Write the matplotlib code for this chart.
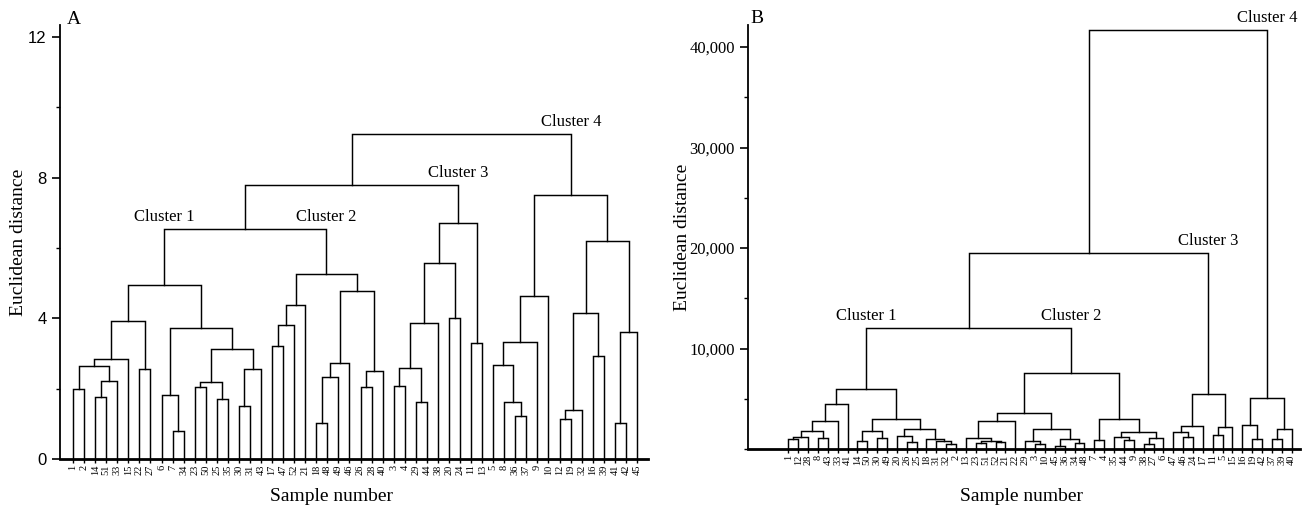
import matplotlib.pyplot as plt
from matplotlib.ticker import FuncFormatter, MultipleLocator

plt.rcParams["font.family"] = ["Liberation Serif", "DejaVu Serif"]

# ---- panel A: leaf order and merges (left, right, height); ids >= n are earlier merges
labels_a = [1, 2, 14, 51, 33, 15, 22, 27, 6, 7, 34, 23, 50, 25, 35, 30, 31, 43,
            17, 47, 52, 21, 18, 48, 49, 46, 26, 28, 40,
            3, 4, 29, 44, 38, 20, 24, 11, 13,
            5, 8, 36, 37, 9, 10, 12, 19, 32, 16, 39, 41, 42, 45]
merges_a = [
    (0, 1, 1.98), (2, 3, 1.76), (53, 4, 2.23), (52, 54, 2.64), (55, 5, 2.83),
    (6, 7, 2.55), (56, 57, 3.93), (9, 10, 0.80), (8, 59, 1.82), (11, 12, 2.06),
    (13, 14, 1.71), (61, 62, 2.20), (15, 16, 1.52), (64, 17, 2.57), (63, 65, 3.13),
    (60, 66, 3.73), (58, 67, 4.96),
    (18, 19, 3.22), (69, 20, 3.80), (70, 21, 4.38), (22, 23, 1.01), (72, 24, 2.34),
    (73, 25, 2.72), (26, 27, 2.05), (75, 28, 2.51), (74, 76, 4.77), (71, 77, 5.27),
    (68, 78, 6.54),
    (29, 30, 2.08), (31, 32, 1.63), (80, 81, 2.58), (82, 33, 3.88), (34, 35, 4.00),
    (83, 84, 5.56), (36, 37, 3.29), (85, 86, 6.70),
    (79, 87, 7.80),
    (40, 41, 1.23), (39, 89, 1.62), (38, 90, 2.67), (91, 42, 3.32), (92, 43, 4.64),
    (44, 45, 1.14), (94, 46, 1.39), (47, 48, 2.93), (95, 96, 4.16), (49, 50, 1.03),
    (98, 51, 3.60), (97, 99, 6.20), (93, 100, 7.50),
    (88, 101, 9.25),
]
# cluster name, child node, parent node
clusters_a = [("Cluster 1", 68, 79), ("Cluster 2", 78, 79),
              ("Cluster 3", 87, 88), ("Cluster 4", 101, 102)]

# ---- panel B
labels_b = [1, 12, 28, 8, 43, 33, 41, 14, 50, 30, 49, 20, 26, 25, 18, 31, 32, 2,
            13, 23, 51, 52, 21, 22, 29, 3, 10, 45, 36, 34, 48, 7, 4, 35, 44, 9, 38,
            27, 6, 47, 46, 24, 17,
            11, 5, 15, 16, 19, 42, 37, 39, 40]
merges_b = [
    (0, 1, 960), (52, 2, 1160), (3, 4, 1060), (53, 54, 1830), (55, 5, 2760),
    (56, 6, 4450), (7, 8, 800), (9, 10, 1100), (58, 59, 1760), (12, 13, 660),
    (11, 61, 1330), (16, 17, 465), (15, 63, 760), (14, 64, 1000), (62, 65, 1990),
    (60, 66, 2990), (57, 67, 5940),
    (19, 20, 560), (21, 22, 700), (69, 70, 800), (18, 71, 1100), (72, 23, 2820),
    (25, 26, 500), (24, 74, 830), (27, 28, 300), (29, 30, 565), (76, 77, 960),
    (75, 78, 1960), (73, 79, 3600), (31, 32, 900), (34, 35, 900), (33, 82, 1160),
    (36, 37, 465), (84, 38, 1060), (83, 85, 1660), (81, 86, 2985), (80, 87, 7590),
    (68, 88, 12040),
    (40, 41, 1160), (39, 90, 1660), (91, 42, 2290), (43, 44, 1400), (93, 45, 2160),
    (92, 94, 5440),
    (89, 95, 19500),
    (47, 48, 960), (46, 97, 2390), (49, 50, 995), (99, 51, 1990), (98, 100, 5040),
    (96, 101, 41700),
]
clusters_b = [("Cluster 1", 68, 89), ("Cluster 2", 88, 89),
              ("Cluster 3", 95, 96), ("Cluster 4", 101, 102)]


def draw_tree(ax, merges, n):
    xs = {i: float(i) for i in range(n)}
    hs = {i: 0.0 for i in range(n)}
    for k, (a, b, h) in enumerate(merges):
        ax.plot([xs[a], xs[a], xs[b], xs[b]], [hs[a], h, h, hs[b]],
                color="black", lw=1.05, solid_joinstyle="miter")
        xs[n + k] = (xs[a] + xs[b]) / 2
        hs[n + k] = h
    return xs, hs


def style_axes(ax, labels):
    for s in ("top", "right"):
        ax.spines[s].set_visible(False)
    ax.spines["left"].set_linewidth(1.3)
    ax.spines["bottom"].set_linewidth(2.0)
    ax.set_xticks(range(len(labels)))
    ax.set_xticklabels([str(v) for v in labels], rotation=90, fontsize=7.5)
    ax.tick_params(axis="x", length=3, width=1.0, pad=1)
    ax.tick_params(axis="y", which="major", length=6, width=1.2, direction="out")
    ax.tick_params(axis="y", which="minor", length=3, width=1.0, direction="out")


fig = plt.figure(figsize=(13.06, 5.11), dpi=100)

# panel A
ax1 = fig.add_axes([60 / 1306, 52 / 511, 588 / 1306, 434 / 511])
xs, hs = draw_tree(ax1, merges_a, len(labels_a))
ax1.set_xlim(-1.18, 52.0)
ax1.set_ylim(0, 12.34)
style_axes(ax1, labels_a)
ax1.set_yticks([0, 4, 8, 12])
ax1.yaxis.set_minor_locator(MultipleLocator(2))
for t in ax1.get_yticklabels():
    t.set_family(["Liberation Sans", "DejaVu Sans"])
    t.set_fontsize(12)
for name, child, parent in clusters_a:
    ax1.annotate(name, (xs[child], hs[parent]), xytext=(0, 3), textcoords="offset points",
                 ha="center", va="bottom", fontsize=12)
ax1.set_ylabel("Euclidean distance", fontsize=14)
ax1.yaxis.set_label_coords(-0.056, 0.5)
ax1.set_xlabel("Sample number", fontsize=14)
ax1.xaxis.set_label_coords(0.461, -0.067)
ax1.text(0.012, 1.012, "A", transform=ax1.transAxes, ha="left", va="center", fontsize=14)

# panel B
ax2 = fig.add_axes([748 / 1306, 62 / 511, 552 / 1306, 424 / 511])
xs, hs = draw_tree(ax2, merges_b, len(labels_b))
ax2.set_xlim(-4.08, 51.84)
ax2.set_ylim(0, 42190)
style_axes(ax2, labels_b)
ax2.set_yticks([10000, 20000, 30000, 40000])
ax2.yaxis.set_minor_locator(MultipleLocator(5000))
ax2.yaxis.set_major_formatter(FuncFormatter(lambda v, p: f"{int(v):,}"))
for t in ax2.get_yticklabels():
    t.set_fontsize(12)
for name, child, parent in clusters_b:
    ax2.annotate(name, (xs[child], hs[parent]), xytext=(0, 3), textcoords="offset points",
                 ha="center", va="bottom", fontsize=12)
ax2.set_ylabel("Euclidean distance", fontsize=14)
ax2.yaxis.set_label_coords(-0.103, 0.5)
ax2.set_xlabel("Sample number", fontsize=14)
ax2.xaxis.set_label_coords(0.496, -0.092)
ax2.text(0.004, 1.016, "B", transform=ax2.transAxes, ha="left", va="center", fontsize=14)

fig.savefig("out.png", dpi=100)
